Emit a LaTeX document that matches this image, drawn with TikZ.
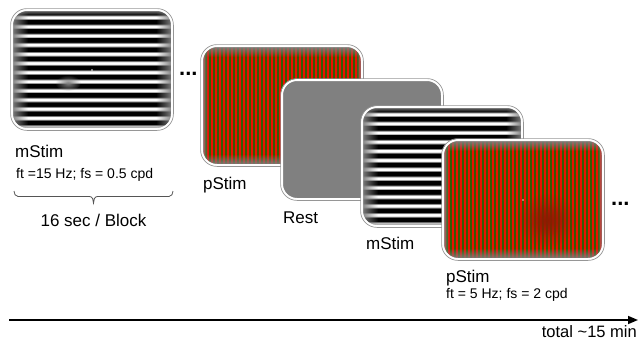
\documentclass[tikz,border=0pt]{standalone}
\usepackage{fontspec}
\setmainfont{Liberation Sans}
\usetikzlibrary{fadings,arrows.meta}

\definecolor{screen}{RGB}{128,128,128}
\definecolor{pred}{RGB}{236,16,0}
\definecolor{pgreen}{RGB}{52,92,4}
\definecolor{blobred}{RGB}{140,28,0}
\definecolor{rim}{RGB}{150,150,150}
\definecolor{bracegray}{RGB}{85,85,85}

% soft edges of the stimulus screens
\tikzfading[name=edgeW, left color=transparent!0, right color=transparent!100]
\tikzfading[name=edgeE, left color=transparent!100, right color=transparent!0]
\tikzfading[name=edgeN, top color=transparent!0, bottom color=transparent!100]
\tikzfading[name=edgeS, top color=transparent!100, bottom color=transparent!0]
\tikzfading[name=softspot, inner color=transparent!0, outer color=transparent!100]

\tikzset{
  lab/.style={font=\fontsize{17}{20}\selectfont, anchor=base west, inner sep=0pt},
  small/.style={font=\fontsize{14}{16}\selectfont, anchor=base west, inner sep=0pt},
  dots/.style={font=\fontsize{22}{24}\selectfont\bfseries, anchor=base west, inner sep=0pt},
  screenrim/.pic={
    \draw[white, line width=2pt, rounded corners=15pt] (0,0) rectangle (160,119);
    \draw[rim, line width=0.7pt, rounded corners=16.3pt] (-1.4,-1.4) rectangle (161.4,120.4);
  },
  % horizontal black/white grating
  mstim/.pic={
    \begin{scope}
      \clip[rounded corners=15pt] (0,0) rectangle (160,119);
      \fill[white] (-1,-1) rectangle (161,120);
      \foreach \k in {0,...,13}{
        \pgfmathsetmacro\yk{\k*9.15+1}
        \fill[top color=white, bottom color=black] (0,{\yk-2}) rectangle (160,\yk);
        \fill[black] (0,\yk) rectangle (160,{\yk+3.4});
        \fill[top color=black, bottom color=white] (0,{\yk+3.4}) rectangle (160,{\yk+5.4});
      }
      \fill[screen, path fading=edgeW] (0,0) rectangle (16,119);
      \fill[screen, path fading=edgeE] (144,0) rectangle (160,119);
      \fill[screen, path fading=edgeN] (0,0) rectangle (160,5);
      \fill[screen, path fading=edgeS] (0,114) rectangle (160,119);
    \end{scope}
    \pic {screenrim};
  },
  % vertical red/green grating
  pstim/.pic={
    \begin{scope}
      \clip[rounded corners=15pt] (0,0) rectangle (160,119);
      \fill[pgreen] (-1,-1) rectangle (161,120);
      \foreach \i in {0,...,39}{
        \fill[pred] ({\i*4+1},-1) rectangle ({\i*4+3.3},120);
      }
      \fill[screen, path fading=edgeW] (0,0) rectangle (6,119);
      \fill[screen, path fading=edgeE] (154,0) rectangle (160,119);
      \fill[screen, path fading=edgeN] (0,0) rectangle (160,11);
      \fill[screen, path fading=edgeS] (0,108) rectangle (160,119);
    \end{scope}
    \pic {screenrim};
  },
  reststim/.pic={
    \fill[screen, rounded corners=15pt] (0,0) rectangle (160,119);
    \pic {screenrim};
  }
}

\begin{document}
\begin{tikzpicture}[x=1pt, y=-1pt]
  \useasboundingbox (0,0) rectangle (641,349);

  % block 1: mStim with its faint spot and fixation point
  \pic (s1) at (12,10) {mstim};
  \fill[screen, path fading=softspot] (68,83) ellipse (13 and 8);
  \fill[white!85!gray] (92,70) circle (0.8);

  % remaining blocks, each overlapping the one before
  \pic (s2) at (202,46) {pstim};
  \pic (s3) at (282,80) {reststim};
  \pic (s4) at (362,107) {mstim};
  \pic (s5) at (443,140) {pstim};
  \fill[blobred, path fading=softspot] (547,220) ellipse (30 and 27);
  \fill[blobred, path fading=softspot, fill opacity=0.4] (547,220) ellipse (18 and 16);
  \fill[white!80!pred] (523,200) circle (0.8);

  % labels
  \node[lab] (l1) at (15,157) {mStim};
  \node[small] (f1) at (16,178) {ft =15 Hz; fs = 0.5 cpd};
  \node[lab, anchor=base] (blk) at (93.5,226) {16 sec / Block};
  \node[lab] (l2) at (203,189) {pStim};
  \node[lab] (l3) at (283,223) {Rest};
  \node[lab] (l4) at (366,249) {mStim};
  \node[lab] (l5) at (446,282) {pStim};
  \node[small] (f5) at (446,298) {ft = 5 Hz; fs = 2 cpd};
  \node[lab, anchor=base east, font=\fontsize{16.5}{20}\selectfont] (tot) at (637,337) {total \textasciitilde15 min};

  \node[dots] (d1) at (179,75) {...};
  \node[dots] (d2) at (611,205) {...};

  % brace under the first block
  \coordinate (bl) at (14,191);
  \coordinate (br) at (173,191);
  \draw[bracegray, line width=0.8pt]
    (bl) to[out=-90, in=180] ++(4,5.5) -- ++(71.5,0)
         to[out=0, in=90] ++(4,6.5)
         to[out=90, in=180] ++(4,-6.5) -- ++(71.5,0)
         to[out=0, in=-90] (br);

  % time axis
  \coordinate (t0) at (9,320);
  \coordinate (t1) at (638,320);
  \draw[line width=1.6pt, -{Triangle[length=10pt, width=8pt]}] (t0) -- (t1);
\end{tikzpicture}
\end{document}
